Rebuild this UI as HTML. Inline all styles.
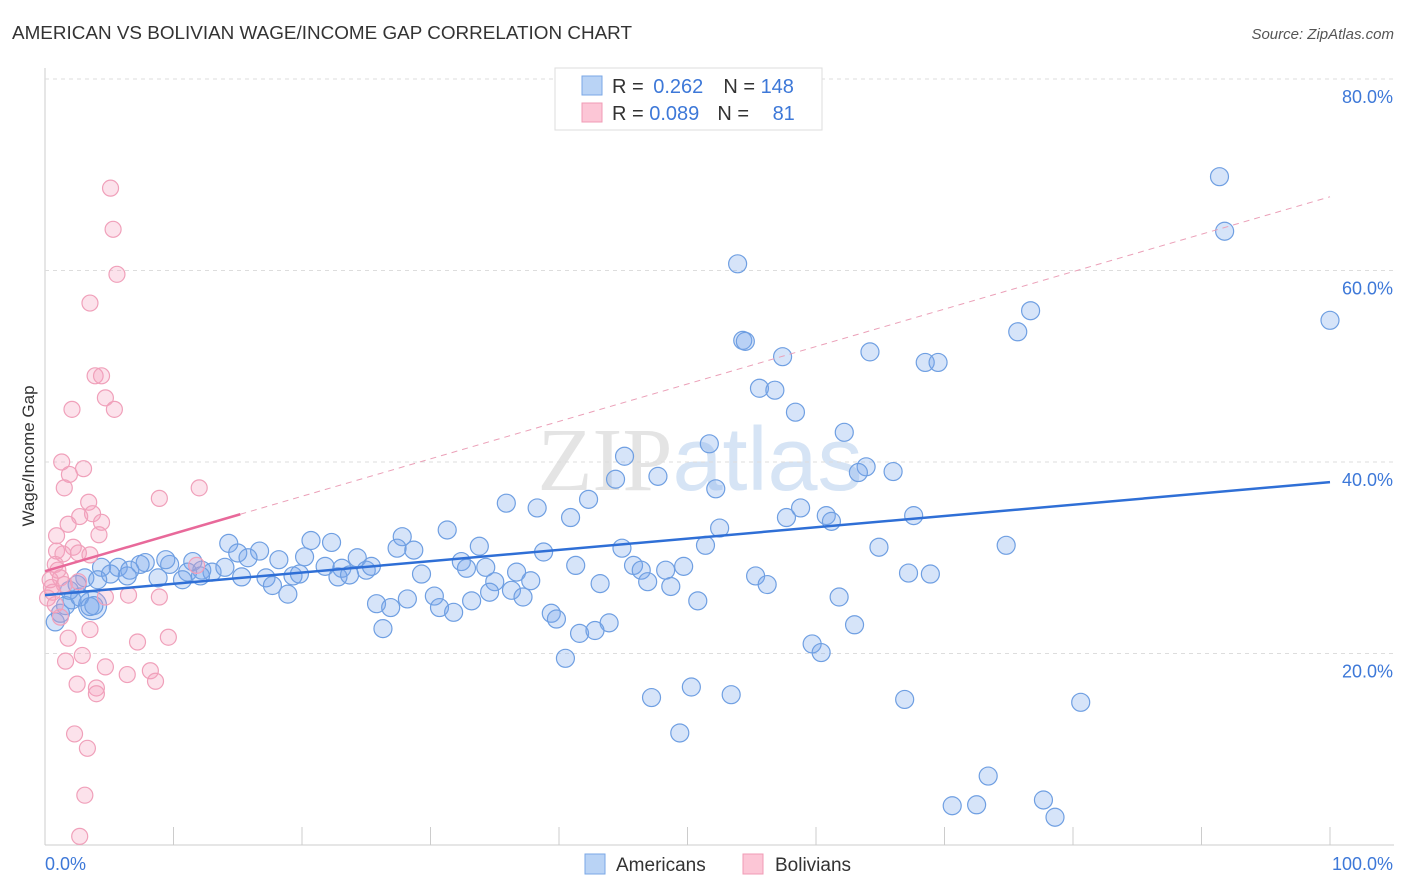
<!DOCTYPE html>
<html><head><meta charset="utf-8"><style>
body{margin:0;background:#fff;font-family:"Liberation Sans",sans-serif}
svg{display:block}
</style></head><body>
<svg id="c" width="1406" height="892">
<text x="12" y="39" font-size="18" fill="#333" textLength="620" lengthAdjust="spacingAndGlyphs">AMERICAN VS BOLIVIAN WAGE/INCOME GAP CORRELATION CHART</text>
<text x="1394" y="39" font-size="15" fill="#555" font-style="italic" text-anchor="end">Source: ZipAtlas.com</text>
<text x="700" y="490" font-size="90" fill="#e4e4e4" text-anchor="middle" font-family="Liberation Serif">ZIP<tspan fill="#d6e4f5" font-family="Liberation Sans">atlas</tspan></text>
<text transform="translate(34,456) rotate(-90)" font-size="17" fill="#333" text-anchor="middle">Wage/Income Gap</text>
<g id="grid"></g><g id="pts"></g><g id="lines"></g>
<g>
<rect x="555" y="68" width="267" height="62" fill="#fff" stroke="#ddd"/>
<rect x="582" y="76" width="20" height="19" fill="#b9d3f5" stroke="#7aa7e6"/>
<rect x="582" y="103" width="20" height="19" fill="#fcc6d6" stroke="#f09bb5"/>
<text x="612" y="93" font-size="20" fill="#333">R = <tspan fill="#3d78d8" dx="4">0.262</tspan><tspan dx="20" fill="#333">N = </tspan><tspan fill="#3d78d8">148</tspan></text>
<text x="612" y="120" font-size="20" fill="#333">R = <tspan fill="#3d78d8">0.089</tspan><tspan dx="18" fill="#333">N = </tspan><tspan fill="#3d78d8" dx="18">81</tspan></text>
</g>
<g>
<rect x="585" y="854" width="20" height="20" fill="#b9d3f5" stroke="#7aa7e6"/>
<text x="616" y="871" font-size="19" fill="#333">Americans</text>
<rect x="743" y="854" width="20" height="20" fill="#fcc6d6" stroke="#f09bb5"/>
<text x="775" y="871" font-size="19" fill="#333">Bolivians</text>
</g>
</svg>
<script>
const yTicks=[20,40,60,80];
const yTickLabels=["20.0%","40.0%","60.0%","80.0%"];
const xTickLabels=["0.0%","100.0%"];
const blueX=[91.4,91.8,53.9,100,76.7,75.7,54.3,54.5,64.2,57.4,68.5,69.5,55.6,56.8,58.4,62.2,51.7,45.1,47.7,44.4,63.9,63.3,66,52.2,42.3,35.9,38.3,40.9,58.8,57.7,60.8,61.2,67.6,52.5,31.3,27.8,51.4,44.9,38.8,33.8,27.4,28.7,64.9,74.8,14.3,20.7,22.3,16.7,15,20.2,24.3,18.2,15.8,11.5,9.7,7.8,9.4,7.4,5.7,4.4,6.6,5.1,32.4,34.3,41.3,45.8,49.7,48.3,46.4,21.8,23.1,25,25.4,32.8,36.7,29.3,12.2,13,14,11.1,12.1,6.4,15.3,17.2,19.3,19.8,22.8,23.7,8.8,10.7,35,37.8,46.9,43.2,55.3,56.2,67.2,68.9,17.7,48.7,36.3,34.6,18.9,37.2,30.3,28.2,25.8,33.2,50.8,61.8,26.9,30.7,31.8,39.4,39.8,43.9,63,26.3,41.6,42.8,59.7,60.4,40.5,47.2,50.3,53.4,66.9,80.6,49.4,73.4,70.6,72.5,77.7,78.6,0.8,1.2,1.6,2.1,2.7,3.5,3.8,3.1,2.5,4.1,1.9];
const blueY=[69.8,64.1,60.7,54.8,55.8,53.6,52.7,52.6,51.5,51,50.4,50.4,47.7,47.5,45.2,43.1,41.9,40.6,38.5,38.2,39.5,38.9,39,37.2,36.1,35.7,35.2,34.2,35.2,34.2,34.4,33.8,34.4,33.1,32.9,32.2,31.3,31,30.6,31.2,31,30.8,31.1,31.3,31.5,31.8,31.6,30.7,30.5,30.1,30,29.8,30,29.6,29.3,29.5,29.8,29.3,29,29,28.7,28.3,29.6,29,29.2,29.2,29.1,28.7,28.7,29.1,28.9,28.7,29.1,28.9,28.5,28.3,28.7,28.5,29,28.5,28.1,28.1,28,27.9,28.1,28.3,28,28.2,27.9,27.7,27.5,27.6,27.5,27.3,28.1,27.2,28.4,28.3,27.1,27,26.6,26.4,26.2,25.9,26,25.7,25.2,25.5,25.5,25.9,24.8,24.8,24.3,24.2,23.6,23.2,23,22.6,22.1,22.4,21,20.1,19.5,15.4,16.5,15.7,15.2,14.9,11.7,7.2,4.1,4.2,4.7,2.9,23.3,24.2,25,25.6,25.9,24.9,25,27.9,27.2,27.7,26.6];
const bigBlueX=[3.7];
const bigBlueY=[25];
const pinkX=[5.1,5.3,5.6,3.5,3.9,4.4,4.7,5.4,2.1,1.3,3,1.9,1.5,12,8.9,3.4,3.7,2.7,4.4,1.8,0.9,4.2,2.2,2.6,0.9,1.4,3.5,11.8,1.2,2.6,0.4,0.6,0.2,0.8,1.2,4.7,6.5,8.9,3.5,1.8,7.2,9.6,2.9,1.6,4.7,8.2,6.4,8.6,2.5,4,4,2.3,3.3,3.1,2.7,0.8,1,1.5,0.5];
const pinkY=[68.6,64.3,59.6,56.6,49,49,46.7,45.5,45.5,40,39.3,38.7,37.3,37.3,36.2,35.8,34.6,34.3,33.7,33.5,32.3,32.4,31.1,30.5,30.7,30.4,30.3,29.2,27.9,27.5,27.7,26.4,25.8,25.1,23.8,25.9,26.1,25.9,22.5,21.6,21.2,21.7,19.8,19.2,18.6,18.2,17.8,17.1,16.8,16.4,15.8,11.6,10.1,5.2,0.9,29.3,28.7,27.2,26.9];
const blueLine=[26.1,37.9];
const pinkLine=[28.6,67.7];
const pinkSolidEnd=15.2;
const X=v=>45+v*12.85, Y=v=>845-v*9.575;
const NS="http://www.w3.org/2000/svg";
function mk(tag,attrs,parent){const e=document.createElementNS(NS,tag);for(const k in attrs)e.setAttribute(k,attrs[k]);document.getElementById(parent).appendChild(e);return e;}
let ax=mk('line',{x1:45,y1:68,x2:45,y2:845,stroke:'#ccc'},'grid');


let bx=mk('line',{x1:45,y1:845,x2:1394,y2:845,stroke:'#ccc'},'grid');


yTicks.forEach((t,i)=>{
 let g=mk('line',{x1:45,y1:Y(t),x2:1394,y2:Y(t),stroke:'#ddd','stroke-dasharray':'4,4'},'grid');
 
 
 let tx=mk('text',{x:1393,y:Y(t)+24,'font-size':18,fill:'#3d78d8','text-anchor':'end'},'grid');
 tx.textContent=yTickLabels[i];
 
 
});
for(let i=1;i<=10;i++){
 let tk=mk('line',{x1:X(i*10),y1:827,x2:X(i*10),y2:845,stroke:'#ccc'},'grid');
 
 
}
[[0,'start',45],[100,'end',1393]].forEach((d,i)=>{
 let tx=mk('text',{x:d[2],y:870,'font-size':18,fill:'#3d78d8','text-anchor':d[1]},'grid');
 tx.textContent=xTickLabels[i];
 
 
});
bigBlueX.forEach((x,i)=>{
 let c=mk('circle',{cx:X(x),cy:Y(bigBlueY[i]),r:14,fill:'rgba(120,165,235,0.3)',stroke:'#6f9fe2','stroke-width':1.2},'pts');
 
 
});
blueX.forEach((x,i)=>{
 let c=mk('circle',{cx:X(x),cy:Y(blueY[i]),r:9,fill:'rgba(120,165,235,0.3)',stroke:'#6f9fe2','stroke-width':1.2},'pts');
 
 
});
pinkX.forEach((x,i)=>{
 let c=mk('circle',{cx:X(x),cy:Y(pinkY[i]),r:8,fill:'rgba(245,160,190,0.3)',stroke:'#f0a0ba','stroke-width':1.2},'pts');
 
 
});
let l1=mk('line',{x1:X(0),y1:Y(blueLine[0]),x2:X(100),y2:Y(blueLine[1]),stroke:'#2f6fd6','stroke-width':2.5},'lines');


const pAt=v=>pinkLine[0]+(pinkLine[1]-pinkLine[0])*v/100;
let l2=mk('line',{x1:X(pinkSolidEnd),y1:Y(pAt(pinkSolidEnd)),x2:X(100),y2:Y(pinkLine[1]),stroke:'#eba0b8','stroke-width':1,'stroke-dasharray':'6,5'},'lines');


let l3=mk('line',{x1:X(0),y1:Y(pinkLine[0]),x2:X(pinkSolidEnd),y2:Y(pAt(pinkSolidEnd)),stroke:'#e8699a','stroke-width':2.5},'lines');


</script>
</body></html>
